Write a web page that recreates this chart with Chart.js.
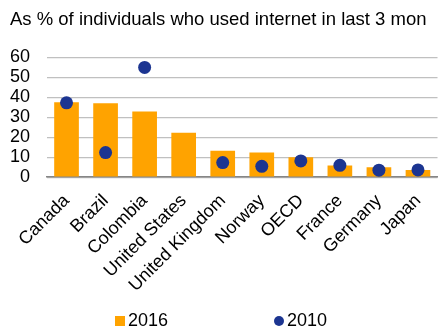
<!DOCTYPE html>
<html>
<head>
<meta charset="utf-8">
<script src="https://cdn.jsdelivr.net/npm/chart.js@4"></script>
<style>
  body { margin: 0; background: #fff; font-family: 'Liberation Sans', Arial, sans-serif; }
  #wrap { width: 439px; height: 331px; position: relative; overflow: hidden; }
  /* plot runs a little past the right edge */
  #inner { width: 444px; height: 331px; position: absolute; left: 0; top: 0; }
  #legend { position: absolute; left: 0; right: 0; top: 310px; display: flex; justify-content: center; padding-left: 3px; }
  #legend .item { display: flex; align-items: center; font-size: 18px; color: #000; margin: 0 53px; }
  #legend .mark { width: 10px; height: 10px; margin-right: 3px; }
</style>
</head>
<body>
<div id="wrap"><div id="inner"><canvas id="usage"></canvas></div><div id="legend"></div></div>
<script>
// internet users, % of individuals (last 3 months)
var countries = ['Canada', 'Brazil', 'Colombia', 'United States', 'United Kingdom', 'Norway', 'OECD', 'France', 'Germany', 'Japan'];
var y2016 = [37.5, 37, 32.8, 22.2, 13.2, 12.3, 9.9, 5.8, 5.0, 3.6];
var y2010 = [37.2, 12.3, 54.9, null, 7.3, 5.4, 8.1, 5.9, 3.5, 3.6];
var yTicks = [0, 10, 20, 30, 40, 50, 60];

var orange = '#ffa300';
var navy = '#1c3591';
var font = 'Liberation Sans';

var chart = new Chart(document.getElementById('usage'), {
    type: 'bar',
    data: {
        labels: countries,
        datasets: [{
            label: '2016',
            data: y2016,
            backgroundColor: orange,
            barPercentage: 0.79,
            categoryPercentage: 0.8,
            order: 2
        }, {
            type: 'line',
            label: '2010',
            data: y2010,
            showLine: false,
            backgroundColor: navy,
            borderColor: navy,
            borderWidth: 0,
            pointRadius: 6.5,
            pointHoverRadius: 6.5,
            order: 1
        }]
    },
    options: {
        responsive: true,
        maintainAspectRatio: false,
        animation: false,
        layout: { padding: { left: 10, right: 0, top: 0, bottom: 30 } },
        plugins: {
            title: {
                display: true,
                text: 'As % of individuals who used internet in last 3 mon',
                align: 'start',
                color: '#000',
                font: { family: font, size: 18.5, weight: 'normal' },
                padding: { top: 9, bottom: 26 }
            },
            legend: { display: false },
            tooltip: { enabled: false }
        },
        scales: {
            x: {
                grid: { display: false },
                border: { color: '#868686', width: 1.5 },
                ticks: {
                    color: '#000',
                    maxRotation: 45,
                    minRotation: 45,
                    padding: 5,
                    font: { family: font, size: 18 }
                },
                // let the slanted labels hang past the plot edges
                afterFit: function(scale) {
                    scale.paddingLeft = 0;
                    scale.paddingRight = 0;
                }
            },
            y: {
                min: 0,
                max: 60,
                afterBuildTicks: function(axis) {
                    axis.ticks = yTicks.map(function(v) { return { value: v }; });
                },
                // labels + padding only, no extra gap
                afterFit: function(scale) {
                    scale.width = 37;
                },
                grid: { color: '#c0c0c0', lineWidth: 1.2, drawTicks: false },
                border: { display: false },
                ticks: {
                    color: '#000',
                    padding: 17,
                    autoSkip: false,
                    font: { family: font, size: 18 }
                }
            }
        }
    }
});

// legend below the canvas, built from the datasets
var legend = document.getElementById('legend');
chart.data.datasets.forEach(function(ds, i) {
    var item = document.createElement('div');
    item.className = 'item';
    var mark = document.createElement('span');
    mark.className = 'mark';
    mark.style.background = ds.backgroundColor;
    if (i === 1) mark.style.borderRadius = '50%';
    item.appendChild(mark);
    item.appendChild(document.createTextNode(ds.label));
    legend.appendChild(item);
});
</script>
</body>
</html>
